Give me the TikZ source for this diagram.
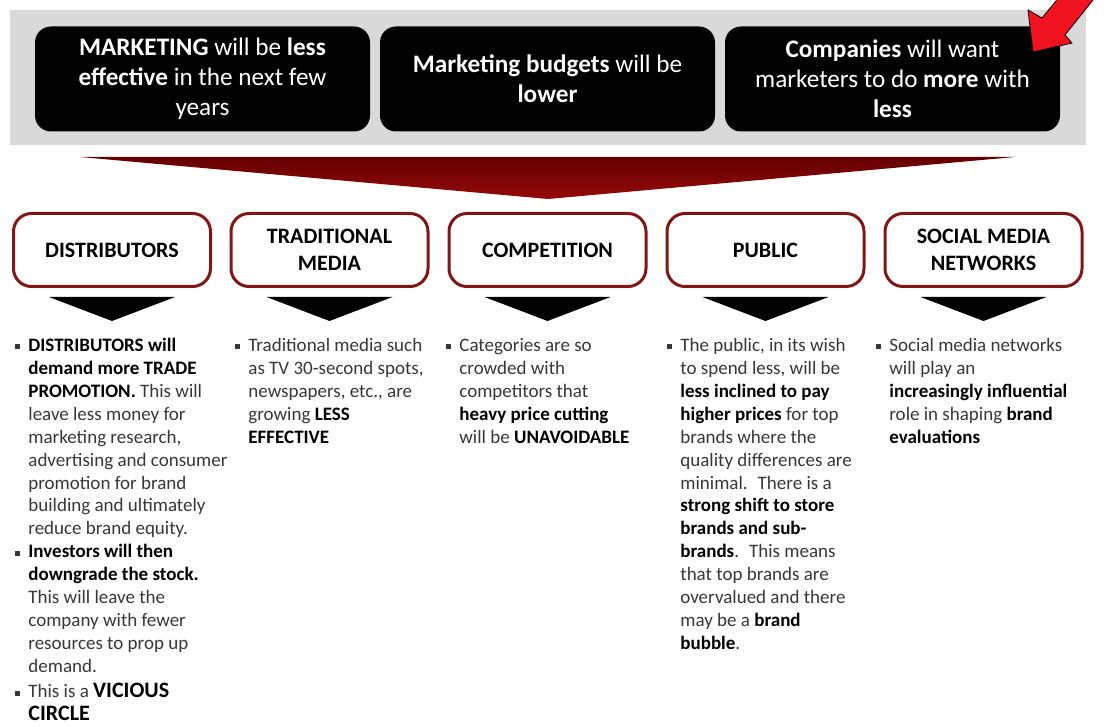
\documentclass[tikz,border=0pt]{standalone}
\usepackage{fontspec}
\setmainfont{Carlito}
\definecolor{boxred}{RGB}{128,22,22}
\definecolor{bandgray}{RGB}{217,217,217}
\definecolor{bandtop}{RGB}{100,0,0}
\definecolor{bandbottom}{RGB}{150,10,10}
\definecolor{arrowred}{RGB}{240,18,30}
\definecolor{bodytext}{RGB}{55,55,55}
\newcommand{\bt}[1]{\textbf{\color{black}#1}}
\newcommand{\sqbul}{\rule[0.22ex]{2.5pt}{2.5pt}}

\begin{document}
\begin{tikzpicture}[
    x=0.5pt, y=-0.5pt,
    topbox/.style={fill=black, rounded corners=8pt, minimum width=167.5pt, minimum height=52.5pt, align=center, text=white, font=\fontsize{12.6}{15}\selectfont},
    catbox/.style={draw=boxred, line width=1.5pt, fill=white, rounded corners=9pt, minimum width=98.5pt, minimum height=36.5pt, align=center, font=\fontsize{11}{13.5}\selectfont\bfseries},
    pointer/.style={fill=black},
    bullets/.style={anchor=base west, inner sep=0pt, text=bodytext, font=\fontsize{9.5}{11.5}\selectfont}
]
    \useasboundingbox (0,0) rectangle (1114,727);
    \clip (0,0) rectangle (1114,727);

    % Fascia grigia con le tre previsioni
    \fill[bandgray] (10,10) rectangle (1086,145);
    \node[topbox] (less) at (202.5,79) {\textbf{MARKETING} will be \textbf{less}\\\textbf{effective} in the next few\\years};
    \node[topbox] (budgets) at (547.5,79) {\textbf{Marketing budgets} will be\\\textbf{lower}};
    \node[topbox] (morewith) at (892.5,79) {\textbf{Companies} will want\\marketers to do \textbf{more} with\\\textbf{less}};

    % Freccia rossa
    \filldraw[arrowred, draw=black, line width=0.4pt] (1069,-15) -- (1042,18) -- (1028,10) -- (1033,52) -- (1072,43) -- (1065,35) -- (1105,-15) -- cycle;

    % Grande triangolo
    \shade[top color=bandtop, bottom color=bandbottom] (80,157) -- (1015,157) -- (548,199) -- cycle;

    % Categorie
    \node[catbox] (distributors) at (112,250) {DISTRIBUTORS};
    \node[catbox] (media) at (329.5,250) {TRADITIONAL\\MEDIA};
    \node[catbox] (competition) at (547.5,250) {COMPETITION};
    \node[catbox] (public) at (765.5,250) {PUBLIC};
    \node[catbox] (social) at (983.5,250) {SOCIAL MEDIA\\NETWORKS};

    % Triangoli neri
    \fill[pointer] ([yshift=-4.5pt]distributors.south) ++(-63,0) -- ++(126,0) -- ++(-63,24) -- cycle;
    \fill[pointer] ([yshift=-4.5pt]media.south) ++(-63,0) -- ++(126,0) -- ++(-63,24) -- cycle;
    \fill[pointer] ([yshift=-4.5pt]competition.south) ++(-63,0) -- ++(126,0) -- ++(-63,24) -- cycle;
    \fill[pointer] ([yshift=-4.5pt]public.south) ++(-63,0) -- ++(126,0) -- ++(-63,24) -- cycle;
    \fill[pointer] ([yshift=-4.5pt]social.south) ++(-63,0) -- ++(126,0) -- ++(-63,24) -- cycle;

    % Testi puntati
    \node[bullets] (distext) at (14.4,351) {\begin{tabular}[t]{@{}l@{\hspace{4.3pt}}l@{}}
        \sqbul & \bt{DISTRIBUTORS will}\\
        & \bt{demand more TRADE}\\
        & \bt{PROMOTION.} This will\\
        & leave less money for\\
        & marketing research,\\
        & advertising and consumer\\
        & promotion for brand\\
        & building and ultimately\\
        & reduce brand equity.\\
        \sqbul & \bt{Investors will then}\\
        & \bt{downgrade the stock.}\\
        & This will leave the\\
        & company with fewer\\
        & resources to prop up\\
        & demand.\\[0.8pt]
        \sqbul & This is a \bt{\fontsize{11}{12.5}\selectfont VICIOUS}\\
        & \bt{\fontsize{11}{12.5}\selectfont CIRCLE}
    \end{tabular}};
    \node[bullets] (medtext) at (234.4,351) {\begin{tabular}[t]{@{}l@{\hspace{4.3pt}}l@{}}
        \sqbul & Traditional media such\\
        & as TV 30-second spots,\\
        & newspapers, etc., are\\
        & growing \bt{LESS}\\
        & \bt{EFFECTIVE}
    \end{tabular}};
    \node[bullets] (comptext) at (445.4,351) {\begin{tabular}[t]{@{}l@{\hspace{4.3pt}}l@{}}
        \sqbul & Categories are so\\
        & crowded with\\
        & competitors that\\
        & \bt{heavy price cutting}\\
        & will be \bt{UNAVOIDABLE}
    \end{tabular}};
    \node[bullets] (pubtext) at (666.4,351) {\begin{tabular}[t]{@{}l@{\hspace{4.3pt}}l@{}}
        \sqbul & The public, in its wish\\
        & to spend less, will be\\
        & \bt{less inclined to pay}\\
        & \bt{higher prices} for top\\
        & brands where the\\
        & quality differences are\\
        & minimal.~ There is a\\
        & \bt{strong shift to store}\\
        & \bt{brands and sub-}\\
        & \bt{brands}.~ This means\\
        & that top brands are\\
        & overvalued and there\\
        & may be a \bt{brand}\\
        & \bt{bubble}.
    \end{tabular}};
    \node[bullets] (soctext) at (875.4,351) {\begin{tabular}[t]{@{}l@{\hspace{4.3pt}}l@{}}
        \sqbul & Social media networks\\
        & will play an\\
        & \bt{increasingly influential}\\
        & role in shaping \bt{brand}\\
        & \bt{evaluations}
    \end{tabular}};

\end{tikzpicture}
\end{document}
